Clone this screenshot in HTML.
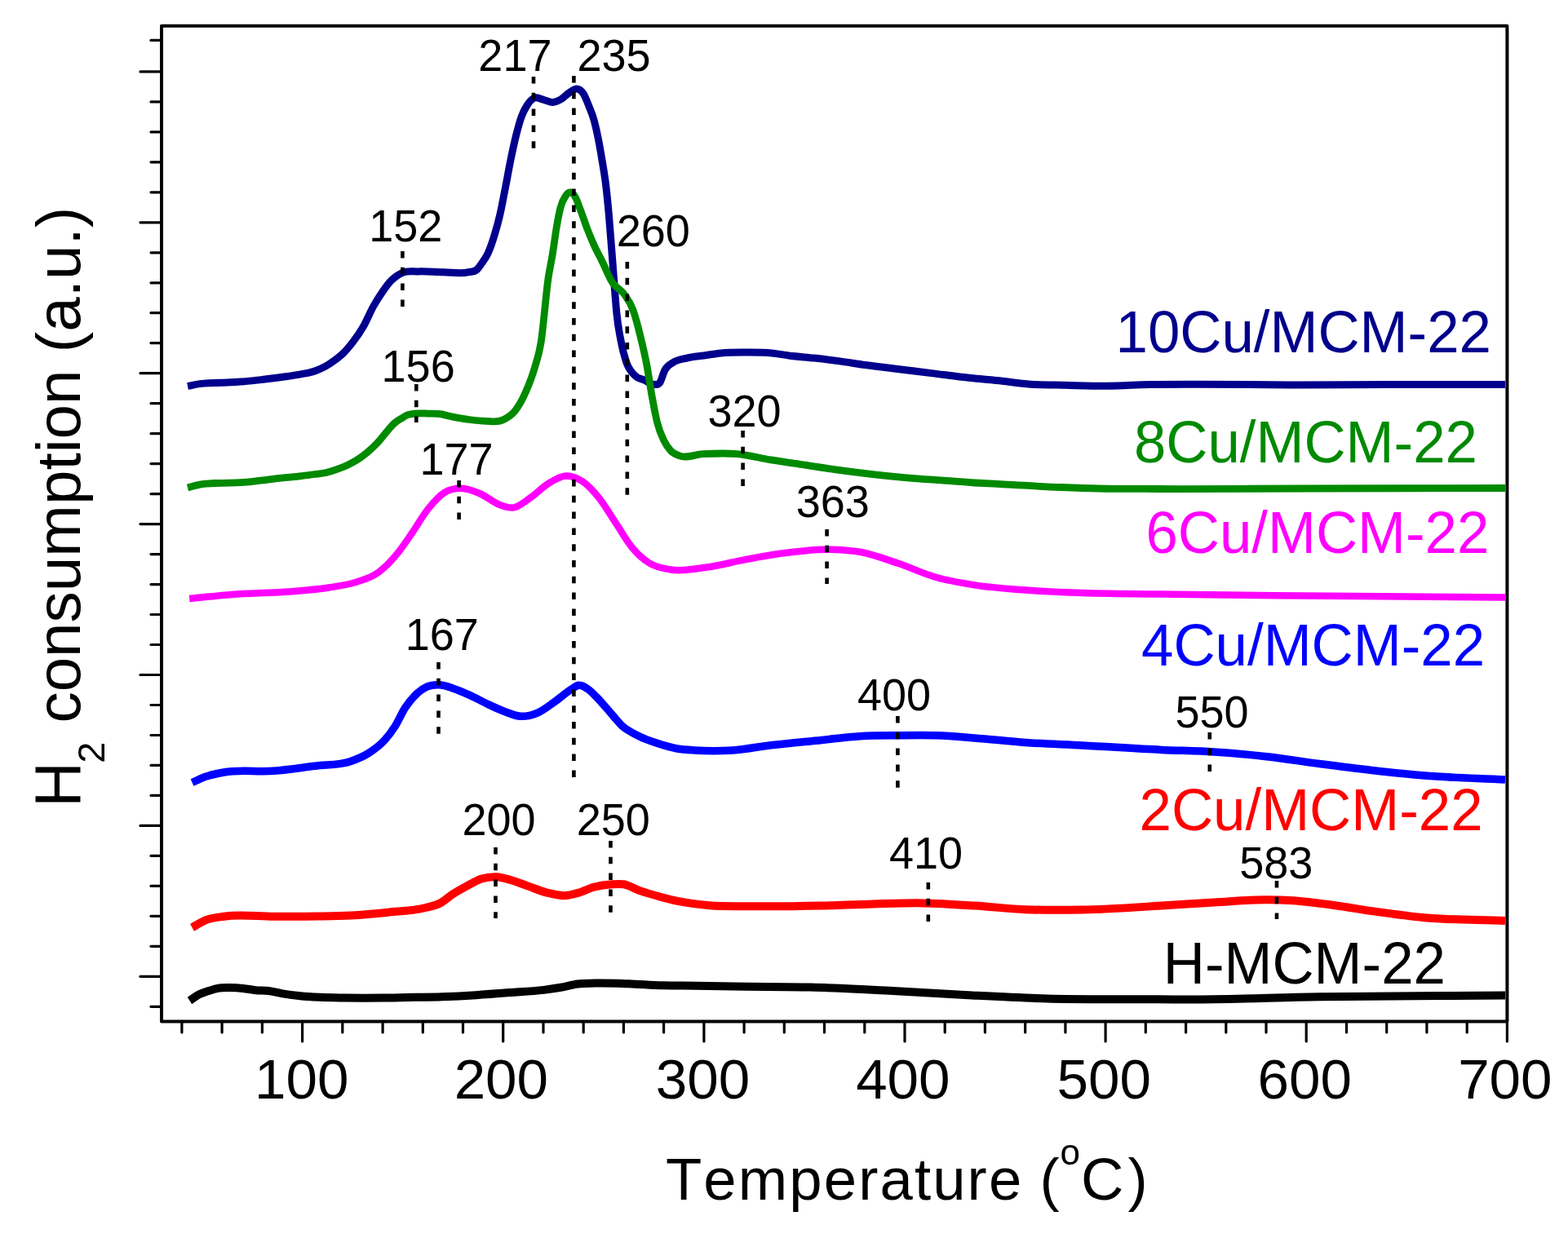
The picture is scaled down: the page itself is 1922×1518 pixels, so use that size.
<!DOCTYPE html>
<html><head><meta charset="utf-8"><title>H2-TPR profiles</title>
<style>
html,body{margin:0;padding:0;background:#fff;}
body{width:1922px;height:1518px;overflow:hidden;}
svg{display:block;}
text{font-family:"Liberation Sans",Arial,sans-serif;font-kerning:none;}
</style></head><body>
<svg width="1922" height="1518" viewBox="0 0 1922 1518">
<rect x="0" y="0" width="1922" height="1518" fill="#fff"/>

<path d="M230.0,473.4 C235.0,472.5 240.0,471.3 245.0,470.6 C253.3,469.5 261.7,469.7 270.0,469.3 C278.3,468.9 286.6,468.7 294.9,468.1 C303.2,467.5 311.6,466.5 319.9,465.6 C328.2,464.7 336.6,463.6 344.9,462.5 C353.2,461.4 361.6,460.4 369.9,458.7 C375.7,457.5 381.5,456.5 387.3,454.4 C391.2,453.0 395.1,451.4 399.0,449.2 C402.3,447.3 405.7,445.0 409.0,442.6 C412.9,439.8 416.7,437.0 420.6,433.2 C424.8,429.1 428.9,424.2 433.1,418.6 C437.3,413.1 441.4,407.2 445.6,399.9 C449.8,392.6 453.9,382.3 458.1,374.9 C461.6,368.7 465.0,363.3 468.5,358.3 C472.0,353.3 475.4,348.4 478.9,344.7 C483.7,339.6 488.6,336.4 493.4,334.3 C499.7,331.6 505.9,333.1 512.2,332.9 C522.6,332.5 533.0,333.6 543.4,333.7 C553.8,333.8 564.2,336.3 574.6,333.7 C578.1,332.8 581.5,333.7 585.0,330.2 C586.6,328.6 588.3,326.1 589.9,323.8 C592.6,319.9 595.4,316.6 598.1,310.6 C600.8,304.6 603.6,296.7 606.3,287.6 C608.5,280.3 610.7,272.5 612.9,262.9 C615.1,253.3 617.3,241.2 619.5,230.0 C621.7,218.8 623.9,206.1 626.1,195.4 C628.3,184.7 630.5,174.5 632.7,165.7 C634.9,156.9 637.1,148.7 639.3,142.7 C641.5,136.7 643.7,133.0 645.9,129.5 C648.6,125.1 651.4,122.1 654.1,120.5 C657.9,118.3 661.8,121.3 665.6,122.1 C669.5,122.9 673.3,125.6 677.2,125.4 C680.5,125.2 683.7,123.9 687.0,122.1 C690.9,120.0 694.7,115.5 698.6,113.1 C701.3,111.4 704.1,108.6 706.8,108.9 C709.5,109.2 712.3,110.4 715.0,114.7 C717.2,118.1 719.4,124.0 721.6,129.5 C723.8,135.0 726.0,139.5 728.2,147.6 C729.8,153.6 731.5,160.9 733.1,169.0 C734.8,177.3 736.4,186.7 738.1,197.0 C739.7,207.1 741.4,215.8 743.0,230.0 C744.1,239.5 745.2,250.6 746.3,262.9 C747.4,275.3 748.5,290.0 749.6,304.1 C750.6,316.5 751.5,329.8 752.5,342.2 C753.6,356.7 754.8,372.9 755.9,384.3 C757.6,401.7 759.4,408.8 761.1,418.1 C763.2,429.5 765.4,436.9 767.5,443.4 C771.0,454.1 774.5,456.4 778.0,460.2 C782.0,464.5 786.0,464.4 790.0,466.2 C794.2,468.1 798.3,471.8 802.5,471.4 C804.6,471.2 806.6,472.2 808.7,469.3 C810.8,466.4 812.9,457.7 815.0,453.7 C818.5,447.2 821.9,446.6 825.4,444.3 C830.9,440.6 836.5,440.4 842.0,439.1 C848.9,437.4 855.9,437.0 862.8,436.0 C869.8,435.0 876.7,433.6 883.7,432.9 C894.1,431.8 904.5,431.9 914.9,431.9 C925.3,431.9 935.7,431.8 946.1,432.9 C953.0,433.6 960.0,435.1 966.9,436.0 C977.3,437.3 987.7,438.0 998.1,439.1 C1008.5,440.2 1018.9,441.5 1029.3,442.9 C1039.7,444.3 1050.2,446.1 1060.6,447.5 C1074.5,449.4 1088.3,451.0 1102.2,452.7 C1116.1,454.4 1129.9,456.2 1143.8,457.9 C1159.2,459.8 1174.6,461.9 1190.0,463.5 C1200.5,464.6 1211.1,465.4 1221.6,466.5 C1235.5,467.9 1249.3,470.2 1263.2,471.2 C1277.1,472.2 1291.0,472.0 1304.9,472.3 C1322.2,472.7 1339.6,473.4 1356.9,473.3 C1374.2,473.2 1391.6,471.9 1408.9,471.5 C1429.7,471.1 1450.6,471.2 1471.4,471.2 C1507.6,471.2 1543.8,471.9 1580.0,472.0 C1620.0,472.1 1660.0,471.7 1700.0,471.6 C1748.3,471.5 1796.7,471.6 1845.0,471.6" fill="none" stroke="#00008c" stroke-width="9.0" stroke-linejoin="round" stroke-linecap="butt"/>
<path d="M230.0,598.0 C235.0,596.7 240.0,595.1 245.0,594.2 C253.3,592.6 261.7,592.7 270.0,592.3 C278.3,591.9 286.6,592.2 294.9,591.7 C303.2,591.2 311.6,590.1 319.9,589.2 C328.2,588.3 336.6,587.0 344.9,586.1 C353.2,585.2 361.6,584.6 369.9,583.6 C375.3,583.0 380.6,582.2 386.0,581.5 C390.7,580.9 395.3,580.6 400.0,579.5 C404.2,578.6 408.3,577.2 412.5,575.7 C416.7,574.2 420.8,572.6 425.0,570.7 C429.2,568.8 433.3,566.7 437.5,564.1 C441.7,561.5 445.8,558.4 450.0,554.9 C454.1,551.4 458.3,547.7 462.4,543.3 C466.6,538.9 470.7,533.1 474.9,528.3 C477.7,525.1 480.4,521.6 483.2,519.1 C486.0,516.6 488.8,515.0 491.6,513.3 C494.4,511.6 497.1,509.7 499.9,508.7 C502.7,507.7 505.4,507.5 508.2,507.1 C513.8,506.4 519.3,507.0 524.9,507.1 C530.4,507.2 536.0,506.9 541.5,507.9 C544.3,508.4 547.0,509.4 549.8,510.0 C553.2,510.8 556.6,511.5 560.0,512.1 C565.0,513.0 570.0,513.9 575.0,514.5 C581.8,515.4 588.6,516.2 595.4,516.3 C602.3,516.4 609.3,518.2 616.2,515.0 C621.4,512.6 626.6,510.1 631.8,503.2 C636.1,497.5 640.5,489.8 644.8,479.8 C648.3,471.7 651.8,463.3 655.3,451.2 C657.9,442.2 660.5,436.1 663.1,420.0 C666.1,401.2 669.2,360.3 672.2,340.0 C673.9,328.8 675.5,322.5 677.2,312.3 C678.8,302.3 680.5,289.0 682.1,279.4 C683.7,269.8 685.4,261.0 687.0,254.7 C689.2,246.2 691.4,243.0 693.6,239.8 C695.3,237.4 696.9,235.8 698.6,235.7 C700.8,235.5 702.9,237.8 705.1,241.5 C707.3,245.2 709.5,252.2 711.7,258.0 C714.5,265.2 717.2,273.8 720.0,281.0 C722.7,288.1 725.5,294.7 728.2,300.8 C731.5,308.1 734.8,313.8 738.1,320.5 C742.3,328.9 746.4,339.8 750.6,346.4 C755.5,354.2 760.5,353.8 765.4,361.1 C768.9,366.2 772.4,370.5 775.9,380.1 C778.7,387.8 781.5,398.4 784.3,409.6 C787.1,420.9 790.0,432.4 792.8,447.6 C794.9,458.9 797.0,473.9 799.1,485.5 C801.2,497.1 803.3,508.7 805.4,517.2 C808.2,528.7 811.1,534.5 813.9,540.4 C816.6,546.1 819.3,549.5 822.0,552.5 C825.5,556.4 829.0,557.2 832.5,558.7 C842.2,562.7 851.9,557.0 861.6,556.6 C875.5,556.0 889.3,555.4 903.2,556.6 C917.1,557.8 931.0,561.6 944.9,563.9 C958.8,566.2 972.6,568.1 986.5,570.2 C1000.4,572.3 1014.2,574.5 1028.1,576.4 C1042.0,578.3 1055.8,580.0 1069.7,581.6 C1083.6,583.2 1097.5,584.6 1111.4,585.8 C1125.3,587.0 1139.1,587.9 1153.0,588.9 C1166.9,589.9 1180.7,591.1 1194.6,592.0 C1206.4,592.7 1218.2,593.2 1230.0,593.8 C1253.3,595.0 1276.7,596.6 1300.0,597.5 C1315.4,598.1 1330.9,598.7 1346.3,599.0 C1370.9,599.6 1395.4,599.4 1420.0,599.5 C1480.0,599.7 1540.0,599.1 1600.0,599.0 C1681.7,598.8 1763.3,598.7 1845.0,598.5" fill="none" stroke="#008a00" stroke-width="8.8" stroke-linejoin="round" stroke-linecap="butt"/>
<path d="M232.1,734.0 C249.6,732.3 267.0,730.2 284.5,728.9 C307.1,727.2 329.6,727.4 352.2,725.6 C369.1,724.3 386.0,723.2 402.9,720.5 C414.2,718.7 425.4,717.4 436.7,713.7 C445.7,710.7 454.8,708.6 463.8,701.9 C471.7,696.1 479.6,688.0 487.5,678.2 C493.1,671.2 498.8,662.6 504.4,654.5 C511.2,644.7 517.9,632.6 524.7,624.1 C531.4,615.7 538.2,608.0 544.9,603.8 C551.7,599.5 558.4,598.7 565.2,598.7 C573.1,598.7 581.0,602.1 588.9,605.5 C596.8,608.9 604.7,616.2 612.6,619.0 C618.2,621.0 623.9,623.3 629.5,622.4 C636.3,621.4 643.0,615.2 649.8,610.6 C657.7,605.3 665.6,596.6 673.5,592.0 C680.2,588.0 687.0,583.8 693.7,583.5 C700.5,583.2 707.2,585.8 714.0,590.3 C720.8,594.8 727.5,602.2 734.3,610.6 C741.1,619.1 747.8,630.9 754.6,641.0 C761.4,651.1 768.1,663.3 774.9,671.5 C781.7,679.7 788.4,685.6 795.2,690.0 C804.2,695.9 813.3,697.0 822.3,698.5 C837.1,701.0 852.0,697.5 866.8,695.5 C882.4,693.4 898.1,689.0 913.7,686.1 C929.3,683.2 944.9,680.3 960.5,678.3 C978.2,676.0 995.9,673.6 1013.6,673.7 C1027.1,673.8 1040.7,674.4 1054.2,676.8 C1069.8,679.6 1085.4,685.6 1101.0,690.8 C1116.6,696.0 1132.2,703.6 1147.8,708.0 C1163.4,712.4 1179.0,714.9 1194.6,717.4 C1215.4,720.7 1236.3,722.0 1257.1,723.6 C1277.9,725.1 1298.7,725.9 1319.5,726.7 C1353.0,728.0 1386.5,728.0 1420.0,728.5 C1480.0,729.4 1540.0,729.9 1600.0,730.5 C1681.7,731.3 1763.3,731.8 1845.0,732.5" fill="none" stroke="#ff00ff" stroke-width="8.5" stroke-linejoin="round" stroke-linecap="butt"/>
<path d="M235.5,959.5 C240.6,957.3 245.6,954.6 250.7,952.8 C258.6,949.9 266.5,948.5 274.4,947.0 C294.7,943.3 315.0,946.9 335.3,945.3 C352.2,944.0 369.1,941.3 386.0,939.2 C400.7,937.3 415.3,938.5 430.0,933.4 C436.9,931.0 443.9,928.4 450.8,924.1 C457.7,919.8 464.7,915.2 471.6,907.4 C475.8,902.7 479.9,897.4 484.1,890.8 C488.3,884.2 492.4,874.3 496.6,867.9 C500.8,861.5 504.9,856.5 509.1,852.3 C514.0,847.4 518.8,844.0 523.7,841.9 C528.5,839.8 533.4,839.6 538.2,839.8 C543.8,840.0 549.3,842.1 554.9,843.9 C561.8,846.1 568.8,849.2 575.7,852.3 C582.6,855.4 589.6,859.4 596.5,862.7 C603.4,866.0 610.4,869.4 617.3,872.0 C624.2,874.6 631.2,877.9 638.1,878.3 C645.0,878.6 652.0,877.0 658.9,874.1 C665.8,871.2 672.8,865.5 679.7,860.6 C686.6,855.8 693.6,849.3 700.5,845.0 C703.3,843.3 706.1,840.8 708.9,840.3 C713.1,839.6 717.2,842.5 721.4,845.5 C724.9,848.0 728.3,851.9 731.8,855.4 C735.3,858.9 738.7,862.9 742.2,866.8 C745.7,870.7 749.1,875.0 752.6,879.0 C756.1,883.0 759.5,887.4 763.0,890.5 C766.5,893.6 769.9,895.4 773.4,897.5 C776.9,899.6 780.3,901.3 783.8,903.0 C790.7,906.3 797.7,908.7 804.6,911.0 C813.1,913.8 821.5,916.5 830.0,918.0 C837.1,919.2 844.1,919.5 851.2,919.9 C866.8,920.9 882.5,920.9 898.1,919.9 C913.7,918.9 929.3,915.6 944.9,913.7 C965.7,911.2 986.5,909.5 1007.3,907.4 C1022.9,905.8 1038.6,903.6 1054.2,902.7 C1069.8,901.8 1085.4,901.9 1101.0,901.8 C1116.6,901.6 1132.2,901.3 1147.8,901.8 C1163.4,902.3 1179.0,903.7 1194.6,904.9 C1215.4,906.5 1236.3,909.0 1257.1,910.5 C1280.3,912.1 1303.6,912.7 1326.8,913.9 C1359.0,915.6 1391.3,917.9 1423.5,919.4 C1445.0,920.4 1466.6,920.5 1488.1,921.9 C1509.6,923.3 1531.1,925.3 1552.6,927.7 C1574.1,930.1 1595.6,933.7 1617.1,936.5 C1638.6,939.3 1660.1,942.1 1681.6,944.5 C1703.1,946.9 1724.6,949.3 1746.1,951.0 C1779.1,953.7 1812.0,954.3 1845.0,956.0" fill="none" stroke="#0000ff" stroke-width="9.5" stroke-linejoin="round" stroke-linecap="butt"/>
<path d="M235.5,1137.3 C240.6,1134.5 245.6,1131.0 250.7,1128.8 C258.6,1125.4 266.5,1124.9 274.4,1123.7 C294.7,1120.6 315.0,1123.7 335.3,1123.7 C353.5,1123.7 371.8,1123.8 390.0,1123.5 C403.3,1123.3 416.7,1123.2 430.0,1122.5 C445.3,1121.7 460.5,1120.3 475.8,1118.7 C491.1,1117.1 506.3,1117.0 521.6,1113.0 C527.7,1111.4 533.8,1110.4 539.9,1107.2 C545.2,1104.4 550.6,1099.2 555.9,1095.8 C561.2,1092.4 566.6,1089.5 571.9,1086.6 C578.0,1083.3 584.2,1079.4 590.3,1077.5 C596.4,1075.6 602.5,1074.9 608.6,1075.2 C613.9,1075.5 619.3,1077.2 624.6,1078.6 C632.2,1080.7 639.9,1083.9 647.5,1086.6 C655.1,1089.3 662.8,1092.7 670.4,1094.6 C678.0,1096.5 685.7,1098.6 693.3,1098.1 C698.6,1097.7 704.0,1096.1 709.3,1094.6 C715.4,1092.8 721.5,1089.5 727.6,1087.8 C735.2,1085.7 742.9,1084.7 750.5,1084.3 C755.1,1084.0 759.7,1083.6 764.3,1084.3 C771.2,1085.4 778.0,1090.0 784.9,1092.4 C792.5,1095.0 800.1,1097.1 807.7,1099.2 C815.3,1101.3 823.0,1103.3 830.6,1104.9 C843.7,1107.6 856.9,1109.1 870.0,1110.2 C884.6,1111.4 899.1,1111.0 913.7,1111.2 C944.9,1111.6 976.1,1111.2 1007.3,1110.5 C1028.1,1110.0 1049.0,1108.9 1069.8,1108.4 C1090.6,1107.9 1111.4,1107.1 1132.2,1107.4 C1153.0,1107.8 1173.8,1109.2 1194.6,1110.5 C1215.4,1111.8 1236.3,1114.3 1257.1,1115.2 C1280.3,1116.2 1303.6,1115.9 1326.8,1115.5 C1359.0,1114.9 1391.3,1112.5 1423.5,1110.6 C1445.0,1109.3 1466.6,1107.7 1488.1,1106.5 C1509.6,1105.3 1531.1,1103.1 1552.6,1103.2 C1563.3,1103.2 1574.1,1103.5 1584.8,1104.2 C1600.9,1105.2 1617.1,1107.5 1633.2,1109.7 C1649.3,1111.8 1665.5,1114.8 1681.6,1117.1 C1703.1,1120.1 1724.6,1123.2 1746.1,1125.2 C1779.1,1128.2 1812.0,1127.7 1845.0,1129.0" fill="none" stroke="#ff0000" stroke-width="10.0" stroke-linejoin="round" stroke-linecap="butt"/>
<path d="M232.5,1227.0 C236.1,1224.6 239.8,1221.6 243.4,1219.7 C247.6,1217.5 251.7,1216.4 255.9,1215.0 C259.5,1213.8 263.2,1212.6 266.8,1211.9 C272.0,1210.9 277.2,1211.1 282.4,1211.1 C287.6,1211.1 292.8,1211.4 298.0,1211.9 C303.2,1212.4 308.4,1213.7 313.6,1214.2 C318.8,1214.7 324.1,1214.3 329.3,1215.0 C334.5,1215.7 339.7,1217.2 344.9,1218.1 C352.7,1219.4 360.5,1220.4 368.3,1221.2 C376.1,1222.0 383.9,1222.4 391.7,1222.8 C402.1,1223.3 412.5,1223.4 422.9,1223.6 C438.5,1223.8 454.1,1223.8 469.7,1223.6 C479.8,1223.5 489.9,1223.2 500.0,1223.0 C513.9,1222.7 527.7,1222.8 541.6,1222.3 C555.5,1221.8 569.3,1221.1 583.2,1220.2 C597.1,1219.3 611.0,1218.2 624.9,1217.1 C638.8,1216.1 652.6,1215.6 666.5,1213.9 C673.4,1213.0 680.4,1212.0 687.3,1210.8 C694.2,1209.6 701.2,1207.4 708.1,1206.5 C715.0,1205.6 722.0,1205.8 728.9,1205.6 C742.8,1205.3 756.7,1205.7 770.6,1206.2 C784.5,1206.7 798.3,1207.9 812.2,1208.3 C826.1,1208.7 839.9,1208.5 853.8,1208.7 C869.2,1208.9 884.6,1209.3 900.0,1209.6 C931.2,1210.1 962.3,1209.8 993.5,1210.6 C1025.8,1211.5 1058.0,1213.2 1090.3,1214.8 C1122.6,1216.4 1154.8,1218.7 1187.1,1220.3 C1219.4,1221.9 1251.6,1223.6 1283.9,1224.5 C1329.3,1225.7 1374.6,1224.9 1420.0,1225.2 C1431.9,1225.3 1443.9,1225.5 1455.8,1225.5 C1509.5,1225.7 1563.3,1223.1 1617.0,1222.3 C1693.0,1221.2 1769.0,1221.2 1845.0,1220.6" fill="none" stroke="#000000" stroke-width="10.0" stroke-linejoin="round" stroke-linecap="butt"/>
<g stroke="#000" stroke-width="4.6" stroke-dasharray="8.5 11.3"><line x1="654.0" y1="94.0" x2="654.0" y2="183.0"/><line x1="703.4" y1="93.0" x2="703.4" y2="957.0"/><line x1="493.4" y1="308.0" x2="493.4" y2="378.0"/><line x1="768.8" y1="321.0" x2="768.8" y2="609.0"/><line x1="510.3" y1="471.0" x2="510.3" y2="518.0"/><line x1="910.6" y1="528.0" x2="910.6" y2="599.0"/><line x1="562.6" y1="589.0" x2="562.6" y2="637.0"/><line x1="1013.6" y1="649.0" x2="1013.6" y2="716.0"/><line x1="537.5" y1="812.0" x2="537.5" y2="901.0"/><line x1="1100.4" y1="878.0" x2="1100.4" y2="966.0"/><line x1="1482.8" y1="898.0" x2="1482.8" y2="948.0"/><line x1="607.5" y1="1039.0" x2="607.5" y2="1126.0"/><line x1="748.5" y1="1031.0" x2="748.5" y2="1119.0"/><line x1="1137.8" y1="1082.0" x2="1137.8" y2="1130.0"/><line x1="1565.0" y1="1080.0" x2="1565.0" y2="1127.0"/></g>
<rect x="198.0" y="31.7" width="1649.4" height="1220.7" fill="none" stroke="#000" stroke-width="4" stroke-linejoin="round"/>
<g stroke="#000" stroke-width="3.2" stroke-linecap="round"><line x1="185.0" y1="49.4" x2="198.0" y2="49.4"/><line x1="172.0" y1="87.9" x2="198.0" y2="87.9"/><line x1="185.0" y1="124.9" x2="198.0" y2="124.9"/><line x1="185.0" y1="161.9" x2="198.0" y2="161.9"/><line x1="185.0" y1="198.8" x2="198.0" y2="198.8"/><line x1="185.0" y1="235.8" x2="198.0" y2="235.8"/><line x1="172.0" y1="272.8" x2="198.0" y2="272.8"/><line x1="185.0" y1="309.8" x2="198.0" y2="309.8"/><line x1="185.0" y1="346.8" x2="198.0" y2="346.8"/><line x1="185.0" y1="383.7" x2="198.0" y2="383.7"/><line x1="185.0" y1="420.7" x2="198.0" y2="420.7"/><line x1="172.0" y1="457.7" x2="198.0" y2="457.7"/><line x1="185.0" y1="494.7" x2="198.0" y2="494.7"/><line x1="185.0" y1="531.7" x2="198.0" y2="531.7"/><line x1="185.0" y1="568.6" x2="198.0" y2="568.6"/><line x1="185.0" y1="605.6" x2="198.0" y2="605.6"/><line x1="172.0" y1="642.6" x2="198.0" y2="642.6"/><line x1="185.0" y1="679.6" x2="198.0" y2="679.6"/><line x1="185.0" y1="716.6" x2="198.0" y2="716.6"/><line x1="185.0" y1="753.5" x2="198.0" y2="753.5"/><line x1="185.0" y1="790.5" x2="198.0" y2="790.5"/><line x1="172.0" y1="827.5" x2="198.0" y2="827.5"/><line x1="185.0" y1="864.5" x2="198.0" y2="864.5"/><line x1="185.0" y1="901.5" x2="198.0" y2="901.5"/><line x1="185.0" y1="938.4" x2="198.0" y2="938.4"/><line x1="185.0" y1="975.4" x2="198.0" y2="975.4"/><line x1="172.0" y1="1012.4" x2="198.0" y2="1012.4"/><line x1="185.0" y1="1049.4" x2="198.0" y2="1049.4"/><line x1="185.0" y1="1086.4" x2="198.0" y2="1086.4"/><line x1="185.0" y1="1123.3" x2="198.0" y2="1123.3"/><line x1="185.0" y1="1160.3" x2="198.0" y2="1160.3"/><line x1="172.0" y1="1197.3" x2="198.0" y2="1197.3"/><line x1="185.0" y1="1234.3" x2="198.0" y2="1234.3"/><line x1="222.9" y1="1252.4" x2="222.9" y2="1266.0"/><line x1="272.1" y1="1252.4" x2="272.1" y2="1266.0"/><line x1="321.4" y1="1252.4" x2="321.4" y2="1266.0"/><line x1="370.6" y1="1252.4" x2="370.6" y2="1277.0"/><line x1="419.8" y1="1252.4" x2="419.8" y2="1266.0"/><line x1="469.1" y1="1252.4" x2="469.1" y2="1266.0"/><line x1="518.3" y1="1252.4" x2="518.3" y2="1266.0"/><line x1="567.5" y1="1252.4" x2="567.5" y2="1266.0"/><line x1="616.7" y1="1252.4" x2="616.7" y2="1277.0"/><line x1="666.0" y1="1252.4" x2="666.0" y2="1266.0"/><line x1="715.2" y1="1252.4" x2="715.2" y2="1266.0"/><line x1="764.4" y1="1252.4" x2="764.4" y2="1266.0"/><line x1="813.6" y1="1252.4" x2="813.6" y2="1266.0"/><line x1="862.9" y1="1252.4" x2="862.9" y2="1277.0"/><line x1="912.1" y1="1252.4" x2="912.1" y2="1266.0"/><line x1="961.3" y1="1252.4" x2="961.3" y2="1266.0"/><line x1="1010.5" y1="1252.4" x2="1010.5" y2="1266.0"/><line x1="1059.8" y1="1252.4" x2="1059.8" y2="1266.0"/><line x1="1109.0" y1="1252.4" x2="1109.0" y2="1277.0"/><line x1="1158.2" y1="1252.4" x2="1158.2" y2="1266.0"/><line x1="1207.4" y1="1252.4" x2="1207.4" y2="1266.0"/><line x1="1256.7" y1="1252.4" x2="1256.7" y2="1266.0"/><line x1="1305.9" y1="1252.4" x2="1305.9" y2="1266.0"/><line x1="1355.1" y1="1252.4" x2="1355.1" y2="1277.0"/><line x1="1404.3" y1="1252.4" x2="1404.3" y2="1266.0"/><line x1="1453.6" y1="1252.4" x2="1453.6" y2="1266.0"/><line x1="1502.8" y1="1252.4" x2="1502.8" y2="1266.0"/><line x1="1552.0" y1="1252.4" x2="1552.0" y2="1266.0"/><line x1="1601.2" y1="1252.4" x2="1601.2" y2="1277.0"/><line x1="1650.5" y1="1252.4" x2="1650.5" y2="1266.0"/><line x1="1699.7" y1="1252.4" x2="1699.7" y2="1266.0"/><line x1="1748.9" y1="1252.4" x2="1748.9" y2="1266.0"/><line x1="1798.2" y1="1252.4" x2="1798.2" y2="1266.0"/><line x1="1847.4" y1="1252.4" x2="1847.4" y2="1277.0"/></g>
<text x="311.99" y="1347.40" font-size="69.20">100</text>
<text x="556.63" y="1347.40" font-size="69.20">200</text>
<text x="803.81" y="1347.40" font-size="69.20">300</text>
<text x="1049.13" y="1347.40" font-size="69.20">400</text>
<text x="1295.54" y="1347.40" font-size="69.20">500</text>
<text x="1541.57" y="1347.40" font-size="69.20">600</text>
<text x="1787.15" y="1347.40" font-size="69.20">700</text>
<text transform="translate(586.35,87.20) scale(1,1.040)" font-size="54.00">217</text>
<text transform="translate(707.48,87.20) scale(1,1.040)" font-size="54.00">235</text>
<text transform="translate(452.20,296.30) scale(1,1.040)" font-size="54.00">152</text>
<text transform="translate(755.75,301.90) scale(1,1.040)" font-size="54.00">260</text>
<text transform="translate(467.58,467.60) scale(1,1.040)" font-size="54.00">156</text>
<text transform="translate(867.38,523.00) scale(1,1.040)" font-size="54.00">320</text>
<text transform="translate(514.55,582.10) scale(1,1.040)" font-size="54.00">177</text>
<text transform="translate(975.71,634.10) scale(1,1.040)" font-size="54.00">363</text>
<text transform="translate(496.65,796.70) scale(1,1.040)" font-size="54.00">167</text>
<text transform="translate(1050.94,871.00) scale(1,1.040)" font-size="54.00">400</text>
<text transform="translate(1440.43,892.00) scale(1,1.040)" font-size="54.00">550</text>
<text transform="translate(566.40,1023.50) scale(1,1.040)" font-size="54.00">200</text>
<text transform="translate(706.75,1023.50) scale(1,1.040)" font-size="54.00">250</text>
<text transform="translate(1089.89,1064.80) scale(1,1.040)" font-size="54.00">410</text>
<text transform="translate(1519.26,1076.70) scale(1,1.040)" font-size="54.00">583</text>
<text transform="translate(1367.62,431.60) scale(1,1.020)" font-size="70.80" fill="#00008c">10Cu/MCM-22</text>
<text transform="translate(1390.00,567.00) scale(1,1.020)" font-size="70.80" fill="#008a00">8Cu/MCM-22</text>
<text transform="translate(1404.40,677.60) scale(1,1.020)" font-size="70.80" fill="#ff00ff">6Cu/MCM-22</text>
<text transform="translate(1399.10,816.40) scale(1,1.020)" font-size="70.80" fill="#0000ff">4Cu/MCM-22</text>
<text transform="translate(1396.60,1018.00) scale(1,1.020)" font-size="70.80" fill="#ff0000">2Cu/MCM-22</text>
<text transform="translate(1425.84,1205.60) scale(1,1.020)" font-size="70.80" fill="#000000">H-MCM-22</text>
<text x="815.97" y="1470.50" font-size="72.50" letter-spacing="2.12">Temperature</text>
<text x="1274.40" y="1470.50" font-size="72.50">(</text>
<text x="1299.45" y="1428.20" font-size="44.00">o</text>
<text x="1324.92" y="1470.50" font-size="72.50">C</text>
<text x="1382.45" y="1470.50" font-size="72.50">)</text>
<text transform="translate(97.80,983.4) rotate(-90) scale(1,1.040)" x="-6.32" y="0" font-size="77.00">H</text>
<text transform="translate(128.00,983.4) rotate(-90) scale(1,1.000)" x="47.74" y="0" font-size="47.00">2</text>
<text transform="translate(97.80,983.4) rotate(-90) scale(1,1.000)" x="96.85" y="0" font-size="76.40">consumption (a.u.)</text>
</svg></body></html>
